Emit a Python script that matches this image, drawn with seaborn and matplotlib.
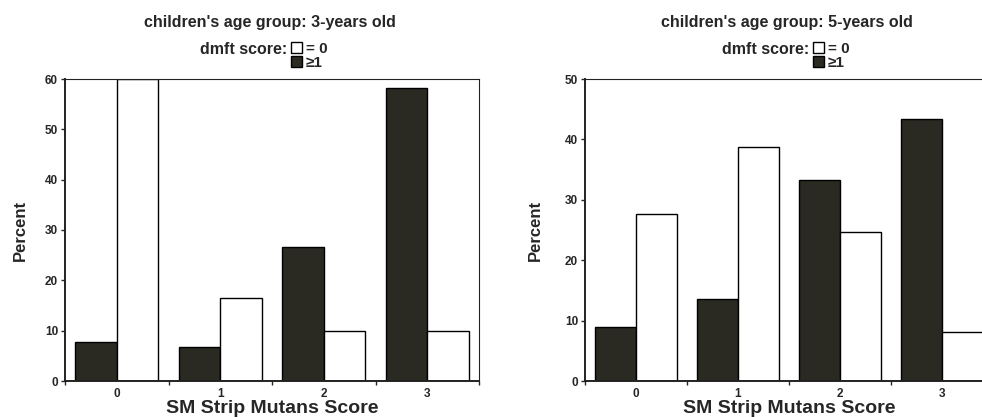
import matplotlib
matplotlib.use("Agg")
import matplotlib.pyplot as plt
from matplotlib.patches import Patch
import seaborn as sns
import pandas as pd

# SM Strip Mutans score categories
scores = ["0", "1", "2", "3"]
dmft_groups = ["\u22651", "= 0"]

# Percent of children per score, split by dmft score
age3_dmft_ge1 = [7.7, 6.7, 26.6, 58.3]
age3_dmft_0 = [60.0, 16.4, 10.0, 10.0]
age5_dmft_ge1 = [8.9, 13.6, 33.3, 43.4]
age5_dmft_0 = [27.7, 38.8, 24.7, 8.1]

panel_titles = ["children's age group: 3-years old",
                "children's age group: 5-years old"]
y_max = [60, 50]

DARK = "#2b2b22"
palette = {dmft_groups[0]: DARK, dmft_groups[1]: "white"}

sns.set_style("white")
plt.rcParams["font.family"] = ["Liberation Sans", "DejaVu Sans"]
plt.rcParams["font.weight"] = "bold"


def long_frame(ge1, zero):
    rows = []
    for s, a, b in zip(scores, ge1, zero):
        rows.append({"score": s, "dmft": dmft_groups[0], "percent": a})
        rows.append({"score": s, "dmft": dmft_groups[1], "percent": b})
    return pd.DataFrame(rows)


W, H = 982, 417
fig = plt.figure(figsize=(W / 100, H / 100), dpi=100)
axes_px = [(65, 414), (585, 408)]
text_anchor = [(270, 287), (787, 809)]
datasets = [(age3_dmft_ge1, age3_dmft_0), (age5_dmft_ge1, age5_dmft_0)]

for i, ((x0, w), (ge1, zero)) in enumerate(zip(axes_px, datasets)):
    ax = fig.add_axes([x0 / W, 36 / H, w / W, 302 / H])
    df = long_frame(ge1, zero)
    sns.barplot(data=df, x="score", y="percent", hue="dmft",
                order=scores, hue_order=dmft_groups, palette=palette,
                edgecolor="black", linewidth=1.0, width=0.8,
                legend=False, ax=ax)
    ax.set_xlim(-0.5, 3.5)
    ax.set_ylim(0, y_max[i])
    ax.set_yticks(range(0, y_max[i] + 1, 10))
    ax.set_xticks(range(len(scores)))
    ax.set_xticklabels(scores)
    ax.set_xticks([-0.5, 0.5, 1.5, 2.5, 3.5], minor=True)
    ax.tick_params(axis="x", which="major", length=0, pad=5,
                   labelsize=8.5)
    ax.tick_params(axis="x", which="minor", length=3, width=1,
                   direction="out", bottom=True)
    ax.tick_params(axis="y", length=3, width=1, direction="out",
                   left=True, pad=2, labelsize=8.5)
    for lab in ax.get_xticklabels() + ax.get_yticklabels():
        lab.set_fontweight("bold")
    for side, sp in ax.spines.items():
        sp.set_visible(True)
        sp.set_color("#222222")
        sp.set_linewidth(1.4 if side in ("left", "bottom") else 0.8)
    ax.set_xlabel("SM Strip Mutans Score", fontsize=14,
                  fontweight="bold", labelpad=0)
    ax.set_ylabel("Percent", fontsize=12, fontweight="bold",
                  labelpad=12 if i == 0 else 16)

    tx, lx = text_anchor[i]
    fig.text(tx / W, 1 - 23 / H, panel_titles[i], ha="center",
             va="center", fontsize=11.5, fontweight="bold")
    fig.text(lx / W, 1 - 50 / H, "dmft score:", ha="right",
             va="center", fontsize=11.5, fontweight="bold")
    handles = [Patch(facecolor="white", edgecolor="black", linewidth=1),
               Patch(facecolor=DARK, edgecolor="black", linewidth=1)]
    fig.legend(handles, ["= 0", "\u22651"], loc="upper left",
               bbox_to_anchor=((lx + 4) / W, 1 - 42 / H),
               bbox_transform=fig.transFigure, frameon=False,
               borderpad=0, borderaxespad=0, handlelength=0.75,
               handleheight=0.75, handletextpad=0.2, labelspacing=0.0,
               prop={"weight": "bold", "size": 11})

fig.savefig("out.png", dpi=100)
